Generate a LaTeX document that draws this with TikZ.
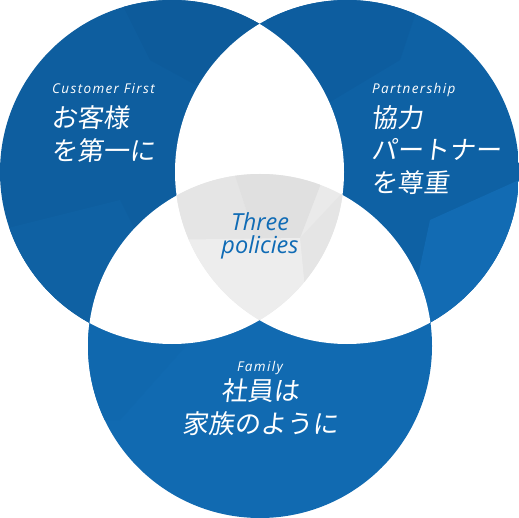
\documentclass[tikz,border=0pt]{standalone}
\usepackage{fontspec}
\newfontfamily\lat{Open Sans}
\newfontfamily\jp[FakeSlant=0.12]{Noto Sans CJK JP}
\definecolor{blueA}{HTML}{0E5E9F}
\definecolor{blueA2}{HTML}{0D5B9B}
\definecolor{blueA3}{HTML}{0F61A3}
\definecolor{blueB}{HTML}{0E61A4}
\definecolor{blueB2}{HTML}{0D5D9F}
\definecolor{blueB3}{HTML}{126BB3}
\definecolor{blueC}{HTML}{116AB1}
\definecolor{blueC2}{HTML}{1068AE}
\definecolor{greyA}{HTML}{EAEAEA}
\definecolor{greyB}{HTML}{E0E0E0}
\definecolor{greyC}{HTML}{E5E5E5}
\definecolor{greyD}{HTML}{EDEDED}
\definecolor{txtblue}{HTML}{0F6BB5}
\tikzset{
  en/.style={text=white,inner sep=0pt,font={\lat\itshape\fontsize{13.5}{15}\selectfont\addfontfeature{LetterSpace=10}}},
  ja/.style={text=white,inner sep=0pt,align=left,font={\jp\fontsize{26}{32.5}\selectfont}},
  jac/.style={ja,align=center},
  mid/.style={text=txtblue,inner sep=0pt,align=center,font={\lat\itshape\fontsize{23.5}{23}\selectfont}}
}
\begin{document}
\begin{tikzpicture}[x=1pt,y=-1pt]
\useasboundingbox (0,0) rectangle (519,518);
\fill[white] (0,0) rectangle (519,518);
\def\cA{(172,172) circle[radius=172pt]}
\def\cB{(347,172) circle[radius=172pt]}
\def\cC{(260,346) circle[radius=172pt]}
% circle A
\begin{scope}
  \clip \cA;
  \fill[blueA] (0,0) rectangle (519,518);
  \fill[blueA2] (120,0) -- (270,0) -- (260,120) -- (150,60) -- cycle;
  \fill[blueA3] (0,230) -- (120,200) -- (200,360) -- (0,360) -- cycle;
\end{scope}
% circle B
\begin{scope}
  \clip \cB;
  \fill[blueB] (0,0) rectangle (519,518);
  \fill[blueB2] (260,0) -- (420,0) -- (400,60) -- (300,120) -- cycle;
  \fill[blueB3] (430,220) -- (519,180) -- (519,360) -- (400,360) -- cycle;
\end{scope}
% circle C
\begin{scope}
  \clip \cC;
  \fill[blueC] (0,0) rectangle (519,518);
  \fill[blueC2] (80,300) -- (200,330) -- (120,420) -- (80,420) -- cycle;
\end{scope}
% pair overlaps
\begin{scope}\clip \cA; \fill[white] \cB;\end{scope}
\begin{scope}\clip \cA; \fill[white] \cC;\end{scope}
\begin{scope}\clip \cB; \fill[white] \cC;\end{scope}
% triple overlap
\begin{scope}
  \clip \cA; \clip \cB; \clip \cC;
  \fill[greyA] (150,150) rectangle (370,340);
  \fill[greyC] (150,160) -- (230,160) -- (256,240) -- (150,240) -- cycle;
  \fill[greyB] (230,160) -- (330,160) -- (300,238) -- (256,240) -- cycle;
  \fill[greyC] (300,238) -- (345,190) -- (345,300) -- (305,290) -- cycle;
  \fill[greyD] (150,240) -- (300,238) -- (305,290) -- (260,340) -- (150,340) -- cycle;
\end{scope}
% texts
\node[en,anchor=base west] (cfE) at (52,94) {Customer First};
\node[ja,anchor=west] (cfJ) at (51,134) {お客様\\を第一に};
\node[en,anchor=base west] (ptE) at (372,94) {Partnership};
\node[ja,anchor=west] (ptJ) at (371,150) {協力\\パートナー\\を尊重};
\node[en,anchor=base] (fmE) at (260,371) {Family};
\node[jac,anchor=center] (fmJ) at (260,407) {社員は\\家族のように};
\node[mid,anchor=base] (tp) at (260,254) {Three\\policies};
\end{tikzpicture}
\end{document}
